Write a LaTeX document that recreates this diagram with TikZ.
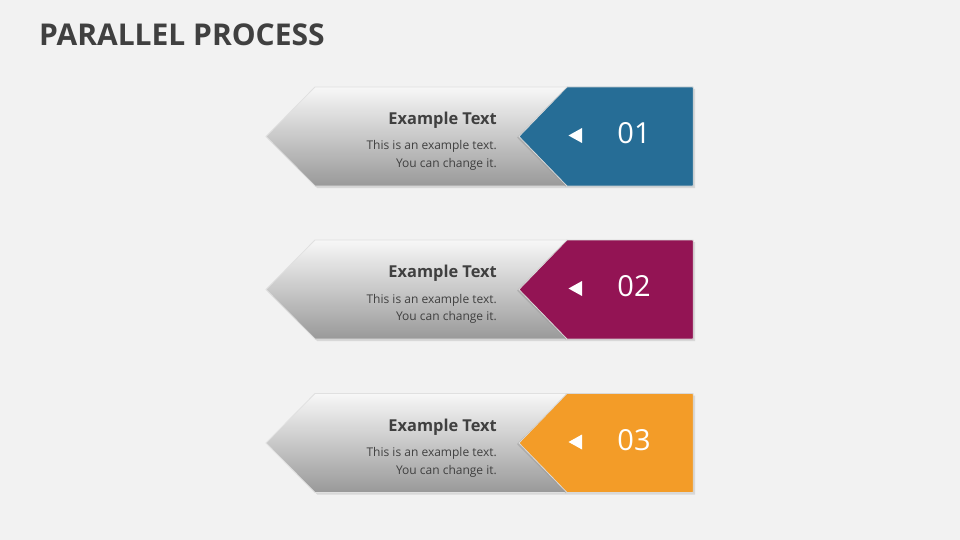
\documentclass[tikz,border=0pt]{standalone}
\usepackage{fontspec}
\setmainfont{Open Sans}
\definecolor{bg}{HTML}{F2F2F2}
\definecolor{titlec}{HTML}{404040}
\definecolor{c1}{HTML}{266D96}
\definecolor{c2}{HTML}{931454}
\definecolor{c3}{HTML}{F39C28}
\definecolor{txtc}{HTML}{404040}
\tikzset{
  grayarrow/.style={top color=white!97!black, bottom color=black!40, draw=black!12, line width=0.8pt},
  shadowshape/.style={fill=black!45, opacity=0.25},
  tabshape/.style={draw=black!15, line width=0.8pt},
  headtxt/.style={font=\bfseries\fontsize{16.4}{20}\selectfont, text=txtc, anchor=base east, inner sep=0pt},
  bodytxt/.style={font=\fontsize{12}{17.5}\selectfont, text=txtc, align=right, anchor=base east, inner sep=0pt},
  numtxt/.style={font=\fontsize{29}{34}\selectfont, text=white, inner sep=0pt},
  tri/.style={fill=white, draw=none}
}
\newcommand{\procrow}[3]{%
  % #1 = center y, #2 = colour, #3 = number
  \begin{scope}[shift={(0,#1)}]
    \fill[shadowshape] (268,2) -- (317,-47.5) -- (695,-47.5) -- (695,51.5) -- (317,51.5) -- cycle;
    \path[grayarrow] (266,0) -- (315,-49.5) -- (567,-49.5) -- (567,49.5) -- (315,49.5) -- cycle;
    \fill[black!40, opacity=0.5] (517,1) -- (566,-48.5) -- (566,50.5) -- cycle;
    \path[fill=#2, tabshape] (519,0) -- (567,-49.5) -- (693,-49.5) -- (693,49.5) -- (567,49.5) -- cycle;
    \fill[#2] (520.5,0) -- (568,-48.5) -- (692.5,-48.5) -- (692.5,48.5) -- (568,48.5) -- cycle;
    \node[headtxt] (h#3) at (497,-12) {Example Text};
    \node[bodytxt] (b#3) at (497,31) {This is an example text.\\You can change it.};
    \fill[tri] (568.5,-1) -- (582,-8.5) -- (582,6.5) -- cycle;
    \node[numtxt] (n#3) at (634,-3) {#3};
  \end{scope}}
\begin{document}
\begin{tikzpicture}[x=1pt,y=-1pt]
  \useasboundingbox (0,0) rectangle (960,540);
  \fill[bg] (0,0) rectangle (960,540);
  \node[font=\bfseries\fontsize{30}{36}\selectfont, text=titlec, anchor=base west, inner sep=0pt] (title) at (39,46) {PARALLEL PROCESS};
  \procrow{136.5}{c1}{01}
  \procrow{289.5}{c2}{02}
  \procrow{443}{c3}{03}
\end{tikzpicture}
\end{document}
